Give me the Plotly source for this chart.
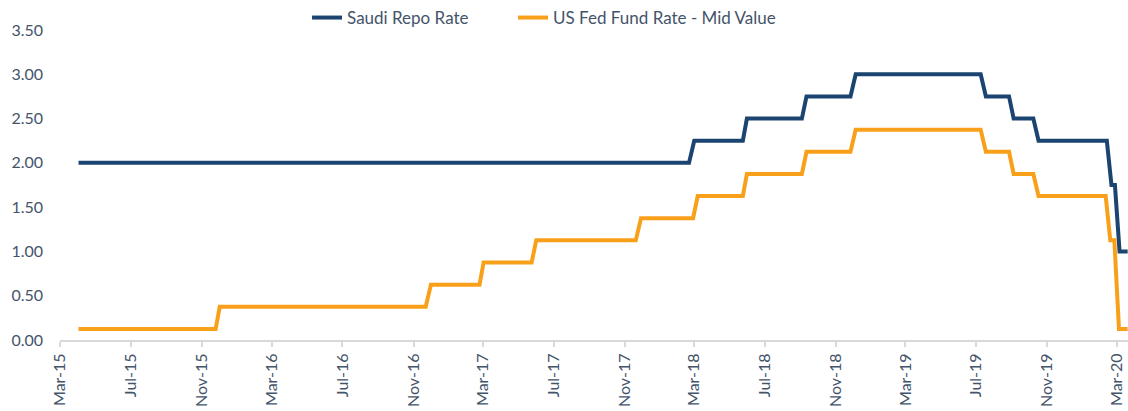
import plotly.graph_objects as go

# Weekly observations around each policy-rate change (step series)
saudi_dates = ["2015-04-02", "2018-02-20", "2018-03-01", "2018-05-24", "2018-05-31",
               "2018-09-03", "2018-09-11", "2018-11-26", "2018-12-05", "2019-07-09",
               "2019-07-18", "2019-08-27", "2019-09-04", "2019-10-08", "2019-10-17",
               "2020-02-12", "2020-02-20", "2020-02-26", "2020-03-05", "2020-03-19"]
saudi_rate = [2.00, 2.00, 2.25, 2.25, 2.50, 2.50, 2.75, 2.75, 3.00, 3.00,
              2.75, 2.75, 2.50, 2.50, 2.25, 2.25, 1.75, 1.75, 1.00, 1.00]

fed_dates = ["2015-04-02", "2015-11-25", "2015-12-02", "2016-11-22", "2016-12-01",
             "2017-02-23", "2017-03-02", "2017-05-24", "2017-06-01", "2017-11-20",
             "2017-11-29", "2018-02-27", "2018-03-07", "2018-05-24", "2018-05-31",
             "2018-09-03", "2018-09-11", "2018-11-26", "2018-12-05", "2019-07-09",
             "2019-07-18", "2019-08-27", "2019-09-04", "2019-10-08", "2019-10-17",
             "2020-02-10", "2020-02-18", "2020-02-25", "2020-03-04", "2020-03-19"]
fed_rate = [0.125, 0.125, 0.375, 0.375, 0.625, 0.625, 0.875, 0.875, 1.125, 1.125,
            1.375, 1.375, 1.625, 1.625, 1.875, 1.875, 2.125, 2.125, 2.375, 2.375,
            2.125, 2.125, 1.875, 1.875, 1.625, 1.625, 1.125, 1.125, 0.125, 0.125]

series_names = ["Saudi Repo Rate", "US Fed Fund Rate - Mid Value"]

NAVY = "#1B4470"
ORANGE = "#F9A01B"
TEXT = "#44546A"
AXIS = "#D9D9D9"
FONT = "Lato, 'Open Sans', sans-serif"

fig = go.Figure()
fig.add_trace(go.Scatter(x=saudi_dates, y=saudi_rate, mode="lines", name=series_names[0],
                         line=dict(color=NAVY, width=4), cliponaxis=False,
                         legend="legend"))
fig.add_trace(go.Scatter(x=fed_dates, y=fed_rate, mode="lines", name=series_names[1],
                         line=dict(color=ORANGE, width=4), cliponaxis=False,
                         legend="legend2"))

legend_style = dict(orientation="h", xanchor="left", y=1.039, yanchor="middle",
                    font=dict(size=17, color=TEXT), bgcolor="rgba(0,0,0,0)")

fig.update_layout(
    width=1128, height=411,
    margin=dict(l=60, r=0, t=30, b=70.5),
    paper_bgcolor="white", plot_bgcolor="white",
    font=dict(family=FONT, size=16, color=TEXT),
    showlegend=True,
    legend=dict(x=0.2313, **legend_style),
    legend2=dict(x=0.4242, **legend_style),
    xaxis=dict(
        type="date",
        range=["2015-03-01", "2020-03-19 14:00"],
        tick0="2015-03-01", dtick="M4", tickformat="%b-%y",
        tickangle=-90,
        showgrid=False, zeroline=False,
        showline=True, linecolor=AXIS, linewidth=2,
        ticks="outside", ticklen=5, tickcolor=AXIS, tickwidth=1.5,
        tickfont=dict(size=16, color=TEXT),
    ),
    yaxis=dict(
        range=[0, 3.5], dtick=0.5, tickformat=".2f",
        showgrid=False, zeroline=False, showline=False,
        ticks="", ticklabelstandoff=16,
        tickfont=dict(size=16, color=TEXT),
    ),
)

fig.write_html("out.html")
